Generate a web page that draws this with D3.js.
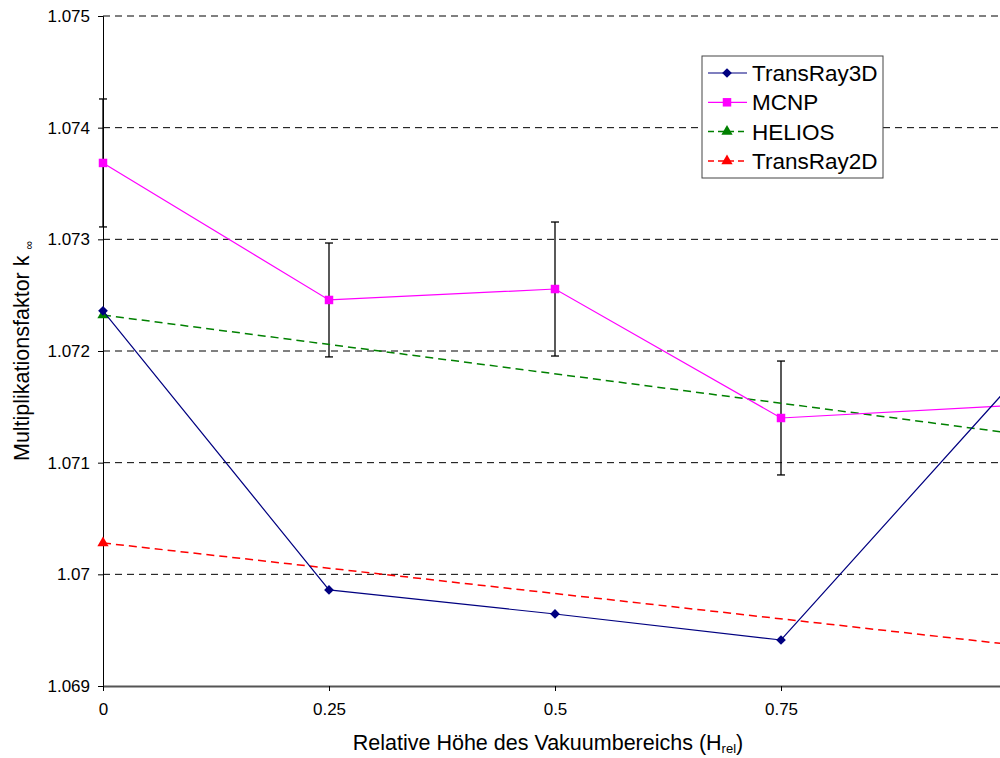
<!DOCTYPE html>
<html><head><meta charset="utf-8">
<script src="https://cdn.jsdelivr.net/npm/d3@7"></script>
<style>body{margin:0;background:#fff;overflow:hidden}svg{display:block}text{font-family:"Liberation Sans",Arial,sans-serif}</style>
</head><body>
<script>
const xTicks = [0, 0.25, 0.5, 0.75];
const yTicks = [1.069, 1.07, 1.071, 1.072, 1.073, 1.074, 1.075];
const xTickLabels = ["0", "0.25", "0.5", "0.75"];
const yTickLabels = ["1.069", "1.07", "1.071", "1.072", "1.073", "1.074", "1.075"];
const xTransRay3D = [0, 0.25, 0.5, 0.75, 1.0];
const yTransRay3D = [1.07236, 1.06986, 1.069645, 1.069412, 1.07166];
const xMCNP = [0, 0.25, 0.5, 0.75, 1.0];
const yMCNP = [1.073684, 1.072457, 1.072555, 1.0714, 1.07151];
const errMCNP = [0.000573, 0.00051, 0.0006, 0.00051, 0.00051];
const xHELIOS = [0, 1.0];
const yHELIOS = [1.072322, 1.071269];
const xTransRay2D = [0, 1.0];
const yTransRay2D = [1.070281, 1.069375];
const seriesNames = ["TransRay3D", "MCNP", "HELIOS", "TransRay2D"];

const W = 1000, H = 758;
const L = 103, T = 16, R = 1007, B = 686;
const svg = d3.select("body").append("svg").attr("width", W).attr("height", H);
const x = d3.scaleLinear().domain([0, 1]).range([L, R]);
const y = d3.scaleLinear().domain([1.069, 1.075]).range([B, T]);

// gridlines
svg.append("g").selectAll("line").data(yTicks.filter(v => v > 1.069)).join("line")
  .attr("x1", L).attr("x2", R).attr("y1", d => y(d)).attr("y2", d => y(d))
  .attr("stroke", "#000").attr("stroke-width", 1).attr("stroke-dasharray", "7,5");

// axes
const yAxis = d3.axisLeft(y).tickValues(yTicks).tickFormat((d, i) => yTickLabels[i]).tickSize(5).tickPadding(8);
const gy = svg.append("g").attr("transform", `translate(${L},0)`).call(yAxis);
gy.select(".domain").attr("stroke", "#000");
gy.selectAll(".tick line").attr("stroke", "#000");
gy.selectAll("text").attr("font-size", 17).attr("fill", "#000").attr("font-family", "Liberation Sans, Arial, sans-serif");

const xAxis = d3.axisBottom(x).tickValues(xTicks).tickFormat((d, i) => xTickLabels[i]).tickSize(5).tickSizeOuter(0).tickPadding(12);
const gx = svg.append("g").attr("transform", `translate(0,${B})`).call(xAxis);
gx.select(".domain").attr("stroke", "#555").attr("stroke-width", 2);
gx.selectAll(".tick line").attr("stroke", "#000");
gx.selectAll("text").attr("font-size", 17).attr("fill", "#000").attr("font-family", "Liberation Sans, Arial, sans-serif");

// error bars
const eb = svg.append("g");
xMCNP.forEach((xv, i) => {
  const cx = x(xv), y1 = y(yMCNP[i] + errMCNP[i]), y2 = y(yMCNP[i] - errMCNP[i]);
  eb.append("line").attr("x1", cx).attr("x2", cx).attr("y1", y1).attr("y2", y2).attr("stroke", "#000").attr("stroke-width", 1.3);
  [y1, y2].forEach(yy => eb.append("line").attr("x1", cx - 4).attr("x2", cx + 4).attr("y1", yy).attr("y2", yy).attr("stroke", "#000").attr("stroke-width", 1.3));
});

const line = d3.line().x(d => x(d[0])).y(d => y(d[1]));
const series = [
  {name: "TransRay3D", xs: xTransRay3D, ys: yTransRay3D, color: "#000080", dash: null, w: 1.2, marker: "diamond"},
  {name: "MCNP", xs: xMCNP, ys: yMCNP, color: "#FF00FF", dash: null, w: 1.2, marker: "square"},
  {name: "HELIOS", xs: xHELIOS, ys: yHELIOS, color: "#008000", dash: "8,5", w: 1.5, marker: "triangle"},
  {name: "TransRay2D", xs: xTransRay2D, ys: yTransRay2D, color: "#FF0000", dash: "8,5", w: 1.5, marker: "triangle"}
];
const sym = {diamond: d3.symbol().type(d3.symbolDiamond2).size(60),
             square: d3.symbol().type(d3.symbolSquare).size(72),
             triangle: d3.symbol().type(d3.symbolTriangle).size(55)};

[series[3], series[2], series[1], series[0]].forEach(s => {
  const pts = s.xs.map((v, i) => [v, s.ys[i]]);
  svg.append("path").datum(pts).attr("d", line).attr("fill", "none")
    .attr("stroke", s.color).attr("stroke-width", s.w).attr("stroke-dasharray", s.dash);
  svg.append("g").selectAll("path").data(pts).join("path")
    .attr("d", sym[s.marker]).attr("transform", d => `translate(${x(d[0])},${y(d[1])})`)
    .attr("fill", s.color);
});

// legend
const lg = svg.append("g");
lg.append("rect").attr("x", 702).attr("y", 56).attr("width", 181).attr("height", 122)
  .attr("fill", "#fff").attr("stroke", "#444").attr("stroke-width", 1);
series.forEach((s, i) => {
  const yy = 73 + i * 29.3;
  lg.append("line").attr("x1", 708).attr("x2", 747).attr("y1", yy).attr("y2", yy)
    .attr("stroke", s.color).attr("stroke-width", s.w).attr("stroke-dasharray", s.dash ? "6,4" : null);
  lg.append("path").attr("d", sym[s.marker]).attr("transform", `translate(727,${yy})`).attr("fill", s.color);
  lg.append("text").attr("x", 752).attr("y", yy + 8).attr("font-size", 22.5).text(seriesNames[i]);
});

// axis titles
const xt = svg.append("text").attr("x", 548).attr("y", 750).attr("text-anchor", "middle").attr("font-size", 21.5);
xt.append("tspan").text("Relative Höhe des Vakuumbereichs (H");
xt.append("tspan").attr("font-size", 13).attr("dy", 3).text("rel");
xt.append("tspan").attr("dy", -3).text(")");

const yt = svg.append("text").attr("transform", "translate(29,351) rotate(-90)").attr("text-anchor", "middle").attr("font-size", 21.5);
yt.append("tspan").text("Multiplikationsfaktor k ");
yt.append("tspan").attr("font-size", 12).attr("dy", 4).text("∞");
</script>
</body></html>
